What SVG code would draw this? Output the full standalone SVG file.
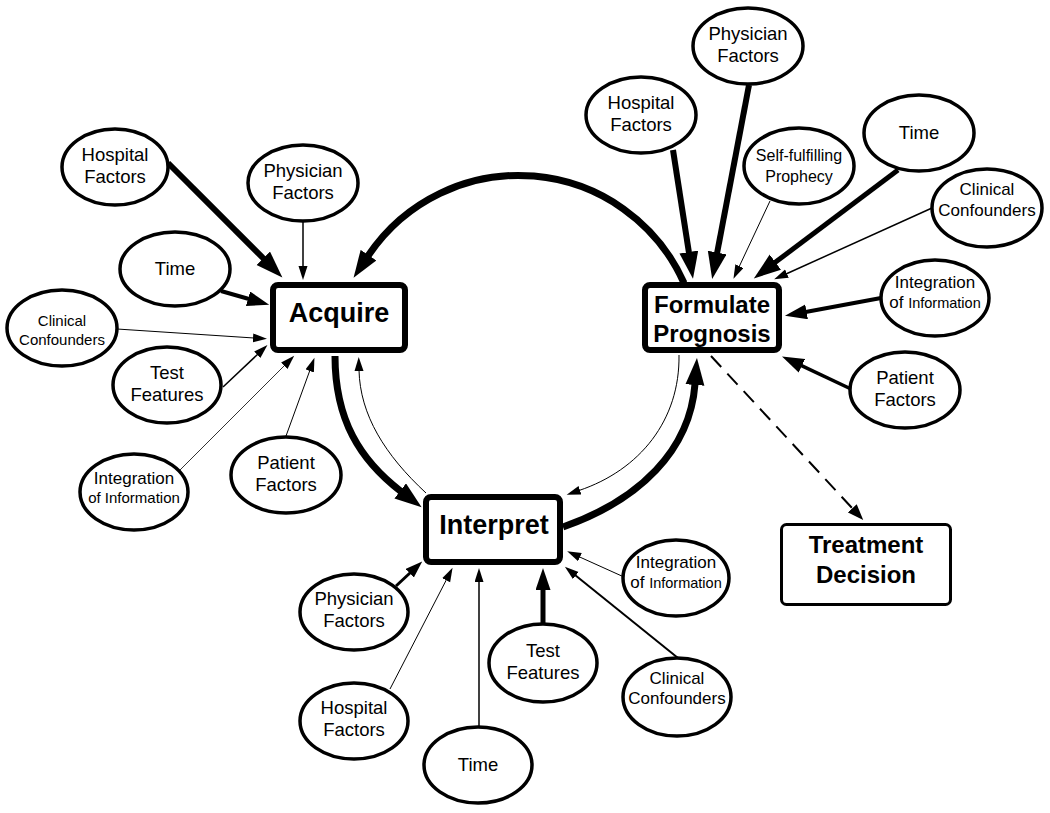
<svg xmlns="http://www.w3.org/2000/svg" width="1050" height="813" viewBox="0 0 1050 813">
<style>
.bg{fill:#fff}
.node ellipse{fill:#fff;stroke:#000;stroke-width:3.5}
.box{fill:#fff;stroke:#000;stroke-width:6}
.box2{fill:#fff;stroke:#000;stroke-width:3}
text{font-family:"Liberation Sans",Arial,sans-serif;fill:#000;text-anchor:middle}
.t{font-size:18.5px}
.t17{font-size:17px}
.t15{font-size:15px}
.t16{font-size:16px}
.b27{font-size:27px;font-weight:bold}
.b24{font-size:24px;font-weight:bold}
.c path{fill:none;stroke:#000;stroke-linecap:butt}
</style>
<defs>
<marker id="mL" markerUnits="userSpaceOnUse" markerWidth="28" markerHeight="20" refX="1" refY="9.5" orient="auto"><path d="M0,0 L27,9.5 L0,19 z" fill="#000"/></marker>
<marker id="mM" markerUnits="userSpaceOnUse" markerWidth="23" markerHeight="16" refX="1" refY="7.5" orient="auto"><path d="M0,0 L22,7.5 L0,15 z" fill="#000"/></marker>
<marker id="mMs" markerUnits="userSpaceOnUse" markerWidth="18" markerHeight="13" refX="1" refY="6" orient="auto"><path d="M0,0 L17,6 L0,12 z" fill="#000"/></marker>
<marker id="mS" markerUnits="userSpaceOnUse" markerWidth="15" markerHeight="10" refX="1" refY="4.5" orient="auto"><path d="M0,0 L14,4.5 L0,9 z" fill="#000"/></marker>
<marker id="mD" markerUnits="userSpaceOnUse" markerWidth="17" markerHeight="13" refX="1" refY="6" orient="auto"><path d="M0,0 L16,6 L0,12 z" fill="#000"/></marker>
</defs>
<rect class="bg" x="0" y="0" width="1050" height="813"/>

<g id="connectors" class="c">
<!-- to Acquire -->
<path d="M168 163 L264 259" stroke-width="6" marker-end="url(#mL)"/>
<path d="M303 222 L303 267" stroke-width="1.5" marker-end="url(#mS)"/>
<path d="M221 291 L249 299" stroke-width="4" marker-end="url(#mM)"/>
<path d="M117 329 L254 338" stroke-width="1" marker-end="url(#mS)"/>
<path d="M223 387 L258 354" stroke-width="1.5" marker-end="url(#mS)"/>
<path d="M180 470 L285 365" stroke-width="0.8" marker-end="url(#mS)"/>
<path d="M286 436 L310 370" stroke-width="1" marker-end="url(#mS)"/>
<!-- to Formulate Prognosis -->
<path d="M673 150 L689 253" stroke-width="6" marker-end="url(#mL)"/>
<path d="M749 85 L717 253.5" stroke-width="6" marker-end="url(#mL)"/>
<path d="M770 201 L739 267" stroke-width="1" marker-end="url(#mS)"/>
<path d="M898 170 L774.6 262.8" stroke-width="5" marker-end="url(#mL)"/>
<path d="M932 208 L786 274" stroke-width="1.5" marker-end="url(#mS)"/>
<path d="M881 298 L805.6 312" stroke-width="4" marker-end="url(#mM)"/>
<path d="M851 389 L801 365.4" stroke-width="3.5" marker-end="url(#mM)"/>
<!-- to Interpret -->
<path d="M396 586 L410.5 572.5" stroke-width="3" marker-end="url(#mMs)"/>
<path d="M390 689 L446.6 579.4" stroke-width="1" marker-end="url(#mS)"/>
<path d="M479 727 L479 581" stroke-width="1.5" marker-end="url(#mS)"/>
<path d="M543 624 L543 589" stroke-width="5" marker-end="url(#mM)"/>
<path d="M678 658 L575 575" stroke-width="2" marker-end="url(#mS)"/>
<path d="M624 577 L579 556.7" stroke-width="1" marker-end="url(#mS)"/>
<!-- cycle -->
<path d="M684 283 A181 181 0 0 0 368 256" stroke-width="7" marker-end="url(#mL)"/>
<path d="M335 356 C335 420 360 460 401 491.5" stroke-width="7" marker-end="url(#mL)"/>
<path d="M426 493 C385 455 360 415 359 370" stroke-width="1" marker-end="url(#mS)"/>
<path d="M563 527 C640 500 690 450 695 384" stroke-width="7" marker-end="url(#mL)"/>
<path d="M679 355 C680 420 640 470 579 490.5" stroke-width="1" marker-end="url(#mS)"/>
<path d="M711 356 L853 509" stroke-width="2" stroke-dasharray="15 9" marker-end="url(#mD)"/>
</g>

<g id="acquire"><rect class="box" x="273" y="285" width="132" height="65" rx="5"/><text class="b27" x="339" y="322">Acquire</text></g>
<g id="formulate"><rect class="box" x="645" y="285" width="134" height="65" rx="5"/><text class="b24" x="712" y="313">Formulate</text><text class="b24" x="712" y="342">Prognosis</text></g>
<g id="interpret"><rect class="box" x="426" y="497" width="134" height="65" rx="5"/><text class="b27" x="494" y="534">Interpret</text></g>
<g id="treatment"><rect class="box2" x="781.5" y="524.5" width="169" height="80" rx="5"/><text class="b24" x="866" y="553">Treatment</text><text class="b24" x="866" y="583">Decision</text></g>

<!-- Acquire factors -->
<g id="a-hospital" class="node"><ellipse cx="115" cy="167" rx="53" ry="38"/><text class="t" x="115" y="161">Hospital</text><text class="t" x="115" y="183">Factors</text></g>
<g id="a-physician" class="node"><ellipse cx="303" cy="183" rx="55" ry="38"/><text class="t" x="303" y="177">Physician</text><text class="t" x="303" y="199">Factors</text></g>
<g id="a-time" class="node"><ellipse cx="175" cy="269" rx="55" ry="37"/><text class="t" x="175" y="275">Time</text></g>
<g id="a-clinical" class="node"><ellipse cx="62" cy="328" rx="55" ry="38"/><text class="t15" x="62" y="326">Clinical</text><text class="t15" x="62" y="345">Confounders</text></g>
<g id="a-test" class="node"><ellipse cx="167" cy="385" rx="54" ry="38"/><text class="t" x="167" y="379">Test</text><text class="t" x="167" y="401">Features</text></g>
<g id="a-integration" class="node"><ellipse cx="134" cy="492" rx="54" ry="38"/><text class="t17" x="134" y="484">Integration</text><text class="t15" x="134" y="503">of Information</text></g>
<g id="a-patient" class="node"><ellipse cx="286" cy="475" rx="55" ry="38"/><text class="t" x="286" y="469">Patient</text><text class="t" x="286" y="491">Factors</text></g>

<!-- Formulate Prognosis factors -->
<g id="f-physician" class="node"><ellipse cx="748" cy="46" rx="55" ry="38"/><text class="t" x="748" y="40">Physician</text><text class="t" x="748" y="62">Factors</text></g>
<g id="f-hospital" class="node"><ellipse cx="641" cy="115" rx="55" ry="38"/><text class="t" x="641" y="109">Hospital</text><text class="t" x="641" y="131">Factors</text></g>
<g id="f-self" class="node"><ellipse cx="799" cy="166" rx="55" ry="38"/><text class="t16" x="799" y="161">Self-fulfilling</text><text class="t16" x="799" y="182">Prophecy</text></g>
<g id="f-time" class="node"><ellipse cx="919" cy="133" rx="55" ry="38"/><text class="t" x="919" y="139">Time</text></g>
<g id="f-clinical" class="node"><ellipse cx="987" cy="208" rx="55" ry="39"/><text class="t17" x="987" y="195">Clinical</text><text class="t17" x="987" y="216">Confounders</text></g>
<g id="f-integration" class="node"><ellipse cx="935" cy="298" rx="54" ry="38"/><text class="t17" x="935" y="288">Integration</text><text x="935" y="308"><tspan class="t17">of </tspan><tspan style="font-size:14.5px">Information</tspan></text></g>
<g id="f-patient" class="node"><ellipse cx="905" cy="390" rx="55" ry="38"/><text class="t" x="905" y="384">Patient</text><text class="t" x="905" y="406">Factors</text></g>

<!-- Interpret factors -->
<g id="i-physician" class="node"><ellipse cx="354" cy="612" rx="54" ry="38"/><text class="t" x="354" y="605">Physician</text><text class="t" x="354" y="627">Factors</text></g>
<g id="i-hospital" class="node"><ellipse cx="354" cy="721" rx="54" ry="38"/><text class="t" x="354" y="714">Hospital</text><text class="t" x="354" y="736">Factors</text></g>
<g id="i-time" class="node"><ellipse cx="478" cy="765" rx="54" ry="38"/><text class="t" x="478" y="771">Time</text></g>
<g id="i-test" class="node"><ellipse cx="543" cy="663" rx="54" ry="39"/><text class="t" x="543" y="657">Test</text><text class="t" x="543" y="679">Features</text></g>
<g id="i-clinical" class="node"><ellipse cx="677" cy="697" rx="54" ry="39"/><text class="t17" x="677" y="684">Clinical</text><text class="t17" x="677" y="704">Confounders</text></g>
<g id="i-integration" class="node"><ellipse cx="676" cy="578" rx="53" ry="38"/><text class="t17" x="676" y="568">Integration</text><text x="676" y="588"><tspan class="t17">of </tspan><tspan style="font-size:14.5px">Information</tspan></text></g>
</svg>
